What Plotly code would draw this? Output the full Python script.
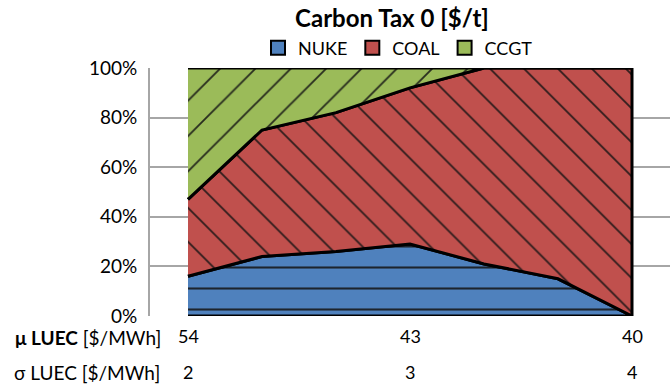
import numpy as np
import plotly.graph_objects as go

# ---- data ----
x_idx = [0, 1, 2, 3, 4, 5, 6]
nuke = [16, 24, 26, 29, 21, 15, 0]
coal = [31, 51, 56, 63, 79, 85, 100]
ccgt = [53, 25, 18, 8, 0, 0, 0]
series_names = ["NUKE", "COAL", "CCGT"]
tick_positions = [0, 3, 6]
mu_luec = ["54", "43", "40"]
sigma_luec = ["2", "3", "4"]
y_ticks = [0, 0.2, 0.4, 0.6, 0.8, 1.0]

FONT = "Lato"
colors = {"NUKE": "#4F81BD", "COAL": "#C0504D", "CCGT": "#9BBB59"}
patterns = {
    "NUKE": dict(shape="-", size=21, solidity=0.1),
    "COAL": dict(shape="\\", size=24, solidity=0.075),
    "CCGT": dict(shape="/", size=25, solidity=0.075),
}

values = {"NUKE": np.array(nuke) / 100, "COAL": np.array(coal) / 100, "CCGT": np.array(ccgt) / 100}

fig = go.Figure()
bottom = np.zeros(len(x_idx))
for name in series_names:
    top = bottom + values[name]
    xs = list(x_idx) + list(x_idx[::-1])
    ys = list(top) + list(bottom[::-1])
    pat = patterns[name]
    fig.add_trace(go.Scatter(
        x=xs, y=ys, name=name, mode="lines", fill="toself",
        fillcolor=colors[name],
        fillpattern=dict(shape=pat["shape"], size=pat["size"], solidity=pat["solidity"],
                         bgcolor=colors[name], fgcolor="rgba(20,20,20,0.85)", fillmode="replace"),
        line=dict(color="black", width=3, shape="linear"),
        hoverinfo="skip", showlegend=False,
    ))
    bottom = top

# legend-only entries (square swatches)
for name in series_names:
    fig.add_trace(go.Scatter(
        x=[None], y=[None], name=name, mode="markers",
        marker=dict(symbol="square", size=14, color=colors[name],
                    line=dict(color="black", width=2)),
        showlegend=True,
    ))

annotations = []
for xv, mu, sg in zip(tick_positions, mu_luec, sigma_luec):
    annotations.append(dict(x=xv, y=0, xref="x", yref="paper", text=mu, showarrow=False,
                            yshift=-20, yanchor="middle", xanchor="center",
                            font=dict(family=FONT, size=18, color="black")))
    annotations.append(dict(x=xv, y=0, xref="x", yref="paper", text=sg, showarrow=False,
                            yshift=-56, yanchor="middle", xanchor="center",
                            font=dict(family=FONT, size=18, color="black")))
annotations.append(dict(x=0, y=0, xref="paper", yref="paper", text="<b>μ LUEC</b> [$/MWh]",
                        showarrow=False, xshift=13, yshift=-21, xanchor="right", yanchor="middle",
                        font=dict(family=FONT, size=19, color="black")))
annotations.append(dict(x=0, y=0, xref="paper", yref="paper", text="σ LUEC [$/MWh]",
                        showarrow=False, xshift=12, yshift=-56, xanchor="right", yanchor="middle",
                        font=dict(family=FONT, size=19, color="black")))

fig.update_layout(
    width=670, height=384,
    margin=dict(l=150, r=0, t=68, b=68),
    paper_bgcolor="white", plot_bgcolor="white",
    font=dict(family=FONT, size=18, color="black"),
    title=dict(text="<b>Carbon Tax 0 [$/t]</b>", x=392 / 670, xanchor="center", y=1 - 19 / 384,
               yanchor="middle", font=dict(family=FONT, size=24, color="black")),
    showlegend=True,
    legend=dict(orientation="h", x=(398 - 150) / 520, xanchor="center", y=1.0 + 20 / 248,
                yanchor="middle", font=dict(family=FONT, size=18), itemwidth=30,
                tracegroupgap=0, bgcolor="rgba(0,0,0,0)"),
    annotations=annotations,
    xaxis=dict(range=[-0.5135, 6.5135], showgrid=False, zeroline=False, showline=False,
               showticklabels=False, ticks="", fixedrange=True),
    yaxis=dict(range=[0, 1], tickvals=y_ticks, tickformat=".0%", showgrid=True,
               gridcolor="#A6A6A6", gridwidth=2, zeroline=False, showline=True,
               linecolor="#A6A6A6", linewidth=2, ticks="", ticklabelstandoff=7,
               tickfont=dict(family=FONT, size=19, color="black"), fixedrange=True),
)

fig.write_html("out.html")
